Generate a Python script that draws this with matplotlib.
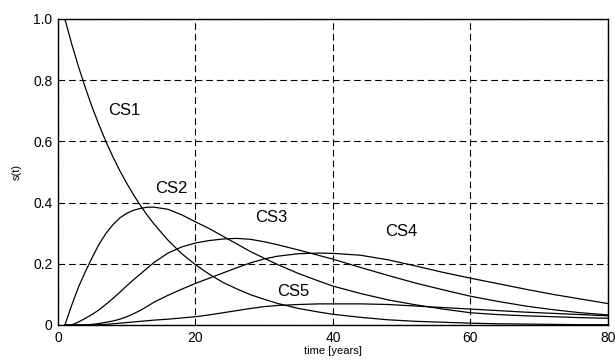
import matplotlib.pyplot as plt
import numpy as np

plt.rcParams['font.family'] = ['Liberation Sans', 'DejaVu Sans']

# time axis [years]
t = [1, 2, 3, 4, 5, 6, 7, 8, 9, 10, 11, 12, 13, 14, 16, 18, 20, 22, 24, 26, 28, 30,
     32, 35, 38, 40, 44, 48, 52, 56, 60, 64, 68, 72, 76, 80]

cs1 = [1.0, 0.918, 0.843, 0.774, 0.71, 0.652, 0.598, 0.549, 0.504, 0.463, 0.425, 0.39,
       0.358, 0.329, 0.277, 0.233, 0.197, 0.166, 0.139, 0.118, 0.099, 0.084,
       0.07, 0.054, 0.042, 0.035, 0.025, 0.017, 0.012, 0.009, 0.006, 0.004, 0.003,
       0.002, 0.001, 0.001]
cs2 = [0.0, 0.065, 0.125, 0.175, 0.222, 0.265, 0.3, 0.328, 0.35, 0.365, 0.375, 0.381,
       0.385, 0.385, 0.378, 0.36, 0.337, 0.315, 0.29, 0.265, 0.24, 0.218,
       0.197, 0.168, 0.143, 0.127, 0.103, 0.082, 0.066, 0.052, 0.04, 0.034, 0.03,
       0.027, 0.024, 0.022]
cs3 = [0.0, 0.0, 0.01, 0.022, 0.035, 0.05, 0.068, 0.087, 0.107, 0.128, 0.148, 0.167,
       0.186, 0.205, 0.235, 0.255, 0.268, 0.276, 0.281, 0.283, 0.28, 0.272,
       0.262, 0.245, 0.227, 0.215, 0.188, 0.162, 0.137, 0.115, 0.094, 0.077, 0.062,
       0.05, 0.04, 0.033]
cs4 = [0.0, 0.0, 0.0, 0.0, 0.002, 0.005, 0.009, 0.013, 0.019, 0.027, 0.037, 0.048,
       0.061, 0.075, 0.097, 0.117, 0.136, 0.153, 0.17, 0.187, 0.203, 0.216,
       0.225, 0.233, 0.235, 0.234, 0.228, 0.213, 0.193, 0.172, 0.153, 0.135, 0.117,
       0.1, 0.085, 0.07]
cs5 = [0.0, 0.0, 0.0, 0.0, 0.0, 0.001, 0.002, 0.004, 0.006, 0.008, 0.01, 0.012,
       0.014, 0.016, 0.019, 0.023, 0.027, 0.033, 0.04, 0.047, 0.054, 0.06,
       0.064, 0.067, 0.069, 0.069, 0.069, 0.067, 0.062, 0.057, 0.052, 0.047, 0.042,
       0.038, 0.034, 0.03]

curves = [cs1, cs2, cs3, cs4, cs5]
names = ['CS1', 'CS2', 'CS3', 'CS4', 'CS5']
label_pos = [(9.6, 0.70), (16.5, 0.445), (31.0, 0.35), (50.0, 0.305), (34.2, 0.11)]

fig = plt.figure(figsize=(6.15, 3.63), dpi=100)
ax = fig.add_axes([0.0943, 0.1047, 0.8943, 0.843])

for y in curves:
    ax.plot(t, y, color='k', lw=0.9)

for name, (lx, ly) in zip(names, label_pos):
    ax.text(lx, ly, name, fontsize=12, ha='center', va='center')

ax.set_xlim(0, 80)
ax.set_ylim(0, 1)
ax.set_xticks([0, 20, 40, 60, 80])
ax.set_yticks([0, 0.2, 0.4, 0.6, 0.8, 1.0])
ax.set_yticklabels(['0', '0.2', '0.4', '0.6', '0.8', '1.0'])
ax.tick_params(length=0, labelsize=10, pad=4)
ax.grid(True, color='k', linestyle=(0, (6, 3.5)), lw=0.8)
for s in ax.spines.values():
    s.set_linewidth(1.0)

ax.set_xlabel('time [years]', fontsize=8, labelpad=1)
ax.set_ylabel('s(t)', fontsize=8, labelpad=8)

fig.savefig('out.png', dpi=100)
